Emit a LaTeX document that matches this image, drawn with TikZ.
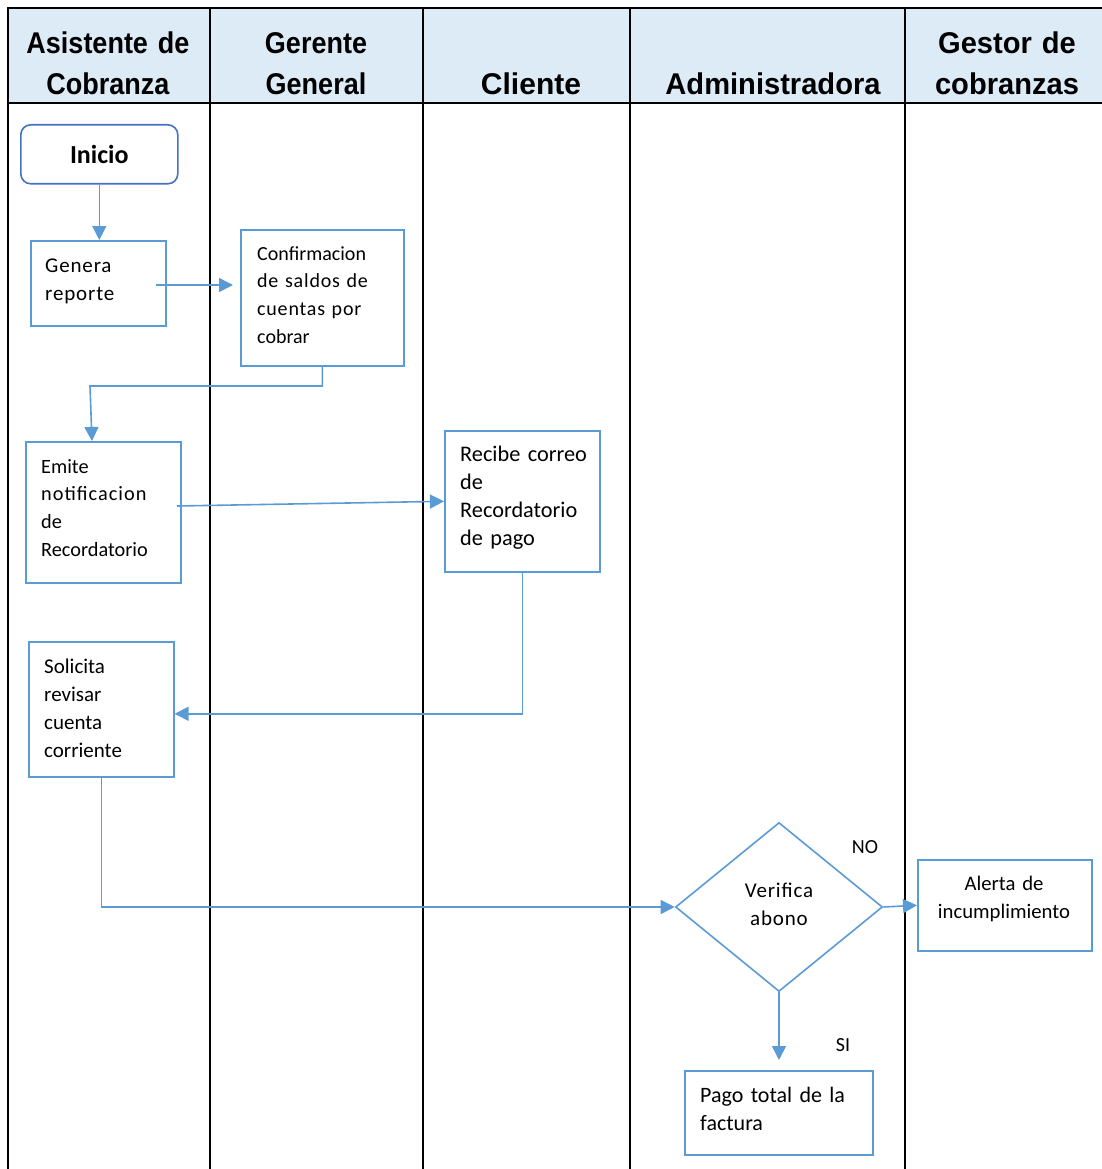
\documentclass[tikz,border=0pt]{standalone}
\usepackage{fontspec}
\setmainfont{Carlito}
\newfontfamily\hdrfont[FakeStretch=0.9]{Liberation Sans}
\newfontfamily\hdrwidefont[FakeStretch=0.97]{Liberation Sans}
\newfontfamily\hdrplainfont{Liberation Sans}
\usetikzlibrary{arrows.meta,shapes.geometric}

\definecolor{flowblue}{RGB}{91,155,213}
\definecolor{startblue}{RGB}{68,114,196}
\definecolor{headfill}{RGB}{221,235,247}

\newcommand{\spaced}[2]{{\addfontfeature{LetterSpace=#1}#2}}

\tikzset{
  lane/.style={line width=2pt, black},
  box/.style={draw=flowblue, line width=1.6pt, rectangle, inner sep=0pt, anchor=north west},
  flow/.style={draw=flowblue, line width=1.6pt, -{Triangle[length=14pt,width=14pt]}},
  lbl/.style={anchor=base west, align=left, inner sep=0pt, text width=#1,
              font=\fontsize{21}{28}\selectfont},
  clbl/.style={anchor=base, align=center, inner sep=0pt, text width=#1,
              font=\fontsize{21}{28}\selectfont},
  hdr/.style={anchor=base, align=center, inner sep=0pt, text width=#1,
              font=\hdrfont\bfseries\fontsize{30}{41}\selectfont},
}

\begin{document}
\begin{tikzpicture}[x=1pt, y=-1pt]
  \useasboundingbox (0,0) rectangle (1102,1169);

  % header band and swimlane grid
  \fill[headfill] (7,8) rectangle (1102,103);
  \draw[lane] (7,8) -- (1102,8);
  \draw[lane] (7,103) -- (1102,103);
  \foreach \lx in {8,210,423,630,905}
    \draw[lane] (\lx,7) -- (\lx,1169);

  % lane titles
  \node[hdr=195pt] (h1) at (108,54) {Asistente de\\Cobranza};
  \node[hdr=195pt] (h2) at (316,54) {Gerente\\General};
  \node[hdr=195pt, font=\hdrplainfont\bfseries\fontsize{30}{41}\selectfont] (h3) at (531,95) {Cliente};
  \node[hdr=260pt, font=\hdrwidefont\bfseries\fontsize{30}{41}\selectfont] (h4) at (773,95) {Administradora};
  \node[hdr=195pt, font=\hdrwidefont\bfseries\fontsize{30}{41}\selectfont] (h5) at (1007,54) {Gestor de\\cobranzas};

  % start
  \node[draw=startblue, line width=1.6pt, rounded corners=10pt, anchor=north west,
        minimum width=157pt, minimum height=59pt, inner sep=0pt,
        font=\bfseries\fontsize{26}{30}\selectfont] (inicio) at (20,124) {Inicio};

  % process boxes
  \node[box, minimum width=135pt, minimum height=85pt] (genera) at (30,240) {};
  \node[lbl=120pt] (genera-t) at (45,272) {\spaced{4}{Genera}\\\spaced{4}{reporte}};

  \node[box, minimum width=163pt, minimum height=136pt] (confirm) at (240,229) {};
  \node[lbl=150pt, font=\fontsize{20}{27.7}\selectfont] (confirm-t) at (257,260)
    {Confirmacion\\\spaced{4}{de saldos de}\\\spaced{4}{cuentas por}\\cobrar};

  \node[box, minimum width=155pt, minimum height=141pt] (emite) at (25,441) {};
  \node[lbl=140pt, font=\fontsize{20.3}{27.7}\selectfont] (emite-t) at (41,473)
    {Emite\\\spaced{5}{notificacion}\\de\\Recordatorio};

  \node[box, minimum width=155pt, minimum height=141pt] (recibe) at (444,430) {};
  \node[lbl=140pt, font=\fontsize{22.3}{28}\selectfont] (recibe-t) at (460,461)
    {Recibe correo\\de\\Recordatorio\\de pago};

  \node[box, minimum width=145pt, minimum height=135pt] (solicita) at (28,641) {};
  \node[lbl=130pt] (solicita-t) at (44,673)
    {Solicita\\revisar\\cuenta\\corriente};

  % decision
  \node[draw=flowblue, line width=1.6pt, diamond, aspect=1.225, inner sep=0pt,
        minimum width=207pt, minimum height=169pt] (dia) at (779,907) {};
  \node[clbl=120pt, font=\addfontfeature{LetterSpace=4}\fontsize{21}{28}\selectfont]
        (dia-t) at (779,897) {Verifica\\abono};
  \node[anchor=base, inner sep=0pt, font=\fontsize{20}{24}\selectfont] (no) at (865,853) {NO};
  \node[anchor=base, inner sep=0pt, font=\fontsize{20}{24}\selectfont] (si) at (843,1051) {SI};

  \node[box, minimum width=174pt, minimum height=91pt] (alerta) at (917,859) {};
  \node[clbl=170pt, font=\fontsize{20.7}{28}\selectfont] (alerta-t) at (1004,890)
    {Alerta de\\incumplimiento};

  \node[box, minimum width=188pt, minimum height=84pt] (pago) at (684,1070) {};
  \node[lbl=170pt, font=\fontsize{22}{28}\selectfont] (pago-t) at (700,1102)
    {Pago total de la\\factura};

  % connectors
  \coordinate (g-out) at (156,285);
  \coordinate (c-bend) at (90,386);
  \coordinate (e-in) at (92,441);
  \coordinate (e-out) at (177,506);

  \draw[flow] (inicio.south) -- (inicio.south |- genera.north);
  \draw[flow, shorten >=7pt] (g-out) -- (confirm.west |- g-out);
  \draw[flow] (confirm.south) |- (c-bend) -- (e-in);
  \draw[flow] (e-out) -- (recibe.west);
  \draw[flow] (recibe.south) |- ([yshift=-4.5pt]solicita.east);
  \draw[flow] (solicita.south) |- (dia.west);
  \draw[flow] (dia.east) -- (alerta.west);
  \draw[flow, shorten >=10pt] (dia.south) -- (dia.south |- pago.north);
\end{tikzpicture}
\end{document}
